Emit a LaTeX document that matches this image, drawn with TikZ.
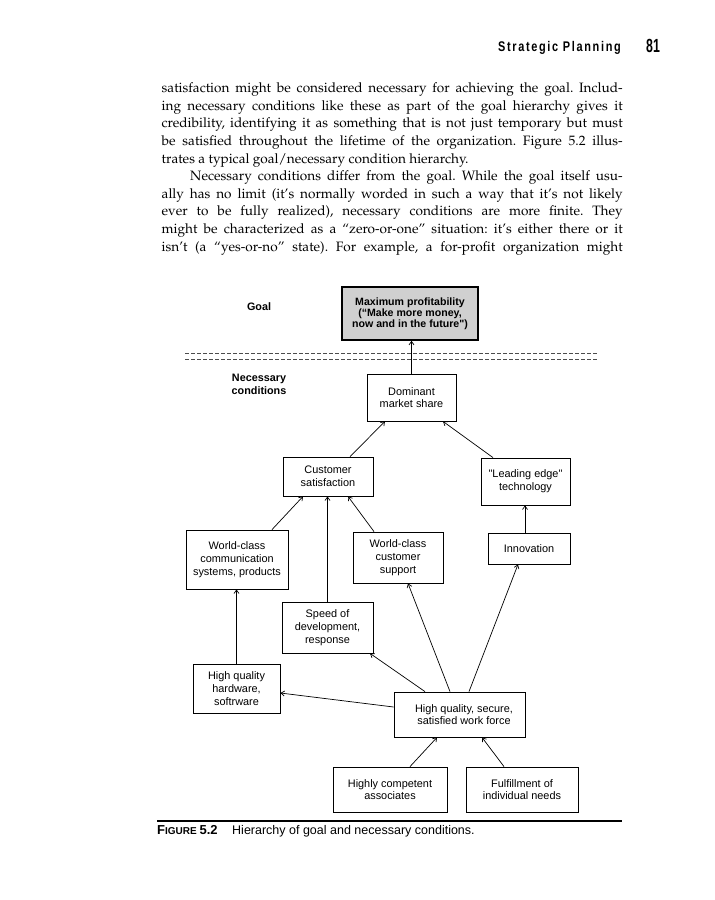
\documentclass[tikz,border=0pt]{standalone}
\usepackage[T1]{fontenc}
\usepackage{fontspec}
\usetikzlibrary{arrows.meta}
\newfontfamily\dsans{Liberation Sans}
\newfontfamily\hdrfont{Liberation Sans}[FakeStretch=0.78,LetterSpace=12]
\newfontfamily\numfont{Liberation Sans}[FakeStretch=0.65]
\newcommand\palfont{\fontencoding{T1}\fontfamily{ppl}\selectfont}
\newcommand\bodyline[1]{\hbox to 461pt{#1}}
\definecolor{goalgray}{RGB}{208,208,208}
\tikzset{
  box/.style={draw, line width=0.8pt, inner sep=0pt, align=center,
    font=\dsans\fontsize{10.9}{12.8}\selectfont},
  goalbox/.style={draw, line width=1.6pt, fill=goalgray, inner sep=0pt, align=center,
    font=\dsans\bfseries\fontsize{10.6}{10.9}\selectfont},
  lab/.style={align=center, inner sep=0pt, font=\dsans\bfseries\fontsize{10.8}{13}\selectfont},
  conn/.style={line width=0.7pt, -{Straight Barb[length=3.5pt,width=5pt]}},
  divider/.style={line width=0.7pt, dash pattern=on 4pt off 2pt, black!70}
}
\begin{document}
\begin{tikzpicture}[x=1pt,y=-1pt]
\useasboundingbox (0,0) rectangle (715,900);
\fill[white] (0,0) rectangle (715,900);

% running head
\node[anchor=base east, inner sep=0pt] (head) at (621,51)
  {\hdrfont\bfseries\fontsize{14}{14}\selectfont Strategic Planning};
\node[anchor=base west, inner sep=0pt] (pnum) at (646,52)
  {\numfont\bfseries\fontsize{19}{19}\selectfont 81};

% body text
\node[anchor=base west, inner sep=0pt, font=\palfont\fontsize{13.6}{17.6}\selectfont] (body) at (161.5,92.7)
{\vtop{\frenchspacing\baselineskip=17.6pt\lineskiplimit=-20pt
\bodyline{satisfaction might be considered necessary for achieving the goal. Includ-}
\bodyline{ing necessary conditions like these as part of the goal hierarchy gives it}
\bodyline{credibility, identifying it as something that is not just temporary but must}
\bodyline{be satisfied throughout the lifetime of the organization. Figure 5.2 illus-}
\bodyline{trates a typical goal/necessary condition hierarchy.\hfil}
\bodyline{\hspace*{28.5pt}Necessary conditions differ from the goal. While the goal itself usu-}
\bodyline{ally has no limit (it's normally worded in such a way that it's not likely}
\bodyline{ever to be fully realized), necessary conditions are more finite. They}
\bodyline{might be characterized as a ``zero-or-one'' situation: it's either there or it}
\bodyline{isn't (a ``yes-or-no'' state). For example, a for-profit organization might}
}};

% labels
\node[lab] (glab) at (259,307) {Goal};
\node[lab] (nlab) at (259,384.5) {Necessary\\conditions};

% dividers
\coordinate (d1a) at (185,353); \coordinate (d1b) at (597,353);
\coordinate (d2a) at (185,359); \coordinate (d2b) at (597,359);
\draw[divider] (d1a) -- (d1b);
\draw[divider] (d2a) -- (d2b);

% boxes
\node[goalbox, minimum width=136pt, minimum height=53pt] (goal) at (410,313.5)
  {Maximum profitability\\(“Make more money,\\now and in the future")};
\node[box, minimum width=89pt, minimum height=47pt] (dom) at (411.5,397.5) {Dominant\\market share};
\node[box, minimum width=90pt, minimum height=39pt] (cust) at (328,476.5) {Customer\\satisfaction};
\node[box, minimum width=89pt, minimum height=47pt] (lead) at (525.5,481.5) {"Leading edge"\\technology};
\node[box, minimum width=102pt, minimum height=59pt] (wcomm) at (237,559.5) {World-class\\communication\\systems, products};
\node[box, minimum width=90pt, minimum height=51pt] (wsup) at (398,557.5) {World-class\\customer\\support};
\node[box, minimum width=82pt, minimum height=31pt] (innov) at (529,548.5) {Innovation};
\node[box, minimum width=91pt, minimum height=51pt] (speed) at (327.5,627.5) {Speed of\\development,\\response};
\node[box, minimum width=87pt, minimum height=49pt] (hw) at (236.5,688.5) {High quality\\hardware,\\softrware};
\node[box, minimum width=131pt, minimum height=45pt] (wf) at (459.5,714.5) {\hspace*{9pt}High quality, secure,\\\hspace*{9pt}satisfied work force};
\node[box, minimum width=114pt, minimum height=45pt] (hc) at (390,789.5) {Highly competent\\associates};
\node[box, minimum width=112pt, minimum height=45pt] (ful) at (522,789.5) {Fulfillment of\\individual needs};

% connectors
\draw[conn] (dom.north) -- (dom.north |- goal.south);
\draw[conn] ([xshift=22pt]cust.north) -- ([xshift=-26.5pt]dom.south);
\draw[conn] ([xshift=-32.5pt]lead.north) -- ([xshift=31.5pt]dom.south);
\draw[conn] ([xshift=35pt]wcomm.north) -- ([xshift=-25pt]cust.south);
\draw[conn] (speed.north) -- (speed.north |- cust.south);
\draw[conn] ([xshift=-24pt]wsup.north) -- ([xshift=20pt]cust.south);
\draw[conn] ([xshift=-4pt]innov.north) -- ([xshift=-4pt]innov.north |- lead.south);
\draw[conn] (hw.north) -- (hw.north |- wcomm.south);
\draw[conn] ([xshift=-34.5pt]wf.north) -- ([xshift=42.5pt]speed.south);
\draw[conn] ([yshift=7.5pt]wf.west) -- ([yshift=-4.5pt]hw.east);
\draw[conn] ([xshift=-9.5pt]wf.north) -- ([xshift=10pt]wsup.south);
\draw[conn] ([xshift=9.5pt]wf.north) -- ([xshift=-11pt]innov.south);
\draw[conn] ([xshift=20pt]hc.north) -- ([xshift=-22.5pt]wf.south);
\draw[conn] ([xshift=-18pt]ful.north) -- ([xshift=22.5pt]wf.south);

% caption
\coordinate (ruleA) at (157,821); \coordinate (ruleB) at (622,821);
\draw[line width=1.3pt] (ruleA) -- (ruleB);
\node[anchor=base west, inner sep=0pt] (figlab) at (157,834)
  {\dsans\bfseries{\fontsize{13}{13}\selectfont F}{\fontsize{10}{10}\selectfont IGURE} {\fontsize{13}{13}\selectfont 5.2}};
\node[anchor=base west, inner sep=0pt] (captxt) at (232,834)
  {\dsans\fontsize{12.5}{12.5}\selectfont Hierarchy of goal and necessary conditions.};
\end{tikzpicture}
\end{document}
